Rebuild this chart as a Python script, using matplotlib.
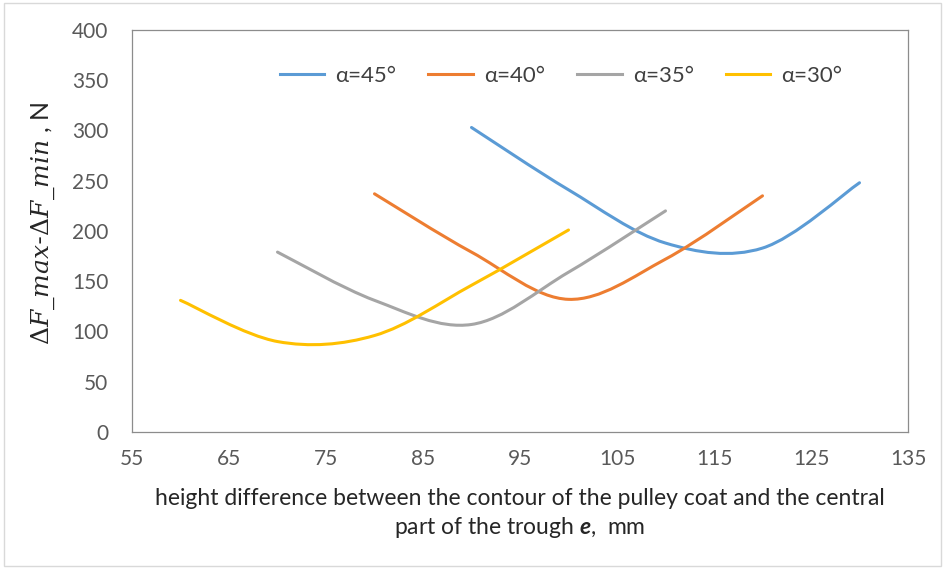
import numpy as np
import matplotlib
matplotlib.use("Agg")
import matplotlib.pyplot as plt
from matplotlib.path import Path
from matplotlib.patches import PathPatch, Rectangle
from matplotlib.lines import Line2D

plt.rcParams['font.family'] = ['Lato', 'DejaVu Sans']
plt.rcParams['mathtext.fontset'] = 'custom'
plt.rcParams['mathtext.rm'] = 'DejaVu Serif'
plt.rcParams['mathtext.it'] = 'DejaVu Serif:italic'
plt.rcParams['mathtext.bf'] = 'Lato:bold:italic'

# data
labels = ['α=45°', 'α=40°', 'α=35°', 'α=30°']
colors = ['#5B9BD5', '#ED7D31', '#A5A5A5', '#FFC000']

x_45 = [90, 100, 110, 120, 130]
y_45 = [303, 241, 188, 183, 248]
x_40 = [80, 90, 100, 110, 120]
y_40 = [237, 179, 132, 172, 235]
x_35 = [70, 80, 90, 100, 110]
y_35 = [179, 131, 107, 159, 220]
x_30 = [60, 70, 80, 90, 100]
y_30 = [131, 90, 96, 146, 201]

series = [(x_45, y_45), (x_40, y_40), (x_35, y_35), (x_30, y_30)]


def smooth_path(xs, ys):
    # excel-like smoothed line: catmull-rom as cubic bezier segments
    pts = np.column_stack([xs, ys]).astype(float)
    n = len(pts)
    verts = [pts[0]]
    codes = [Path.MOVETO]
    for i in range(n - 1):
        p0 = pts[max(i - 1, 0)]
        p1 = pts[i]
        p2 = pts[i + 1]
        p3 = pts[min(i + 2, n - 1)]
        verts += [p1 + (p2 - p0) / 6, p2 - (p3 - p1) / 6, p2]
        codes += [Path.CURVE4] * 3
    return Path(verts, codes)


fig = plt.figure(figsize=(9.45, 5.69), dpi=100)
ax = fig.add_axes([132 / 945, 1 - 432 / 569, 776 / 945, 402 / 569])

for (xs, ys), c in zip(series, colors):
    ax.add_patch(PathPatch(smooth_path(xs, ys), fill=False, edgecolor=c,
                           lw=2.2, capstyle='round'))

ax.set_xlim(55, 135)
ax.set_ylim(0, 400)
ax.set_xticks(np.arange(55, 136, 10))
ax.set_yticks(np.arange(0, 401, 50))
ax.tick_params(length=0, labelsize=15, colors='#595959')
ax.tick_params(axis='y', pad=17)
ax.tick_params(axis='x', pad=12)
for s in ax.spines.values():
    s.set_color('#8c8c8c')
    s.set_linewidth(0.9)

ax.set_xlabel('height difference between the contour of the pulley coat and the central\n'
              r'part of the trough $\mathbf{e}$,  mm',
              fontsize=16.5, color='#262626', linespacing=1.3, labelpad=14)
ax.set_ylabel(r'$\Delta F\_max$-$\Delta F\_min$ , N', fontsize=18, color='#262626')
ax.yaxis.set_label_coords(-0.097, 0.519)

handles = [Line2D([], [], color=c, lw=2.2) for c in colors]
fig.legend(handles, labels, loc='center', ncol=4, frameon=False, fontsize=16,
           bbox_to_anchor=(561 / 945, 1 - 76 / 569), bbox_transform=fig.transFigure,
           handlelength=2.0, handletextpad=0.5, columnspacing=1.45, labelcolor='#404040')

fig.patches.append(Rectangle((0.004, 0.006), 0.992, 0.988, transform=fig.transFigure,
                             fill=False, edgecolor='#d9d9d9', lw=1))

fig.savefig('out.png', dpi=100)
